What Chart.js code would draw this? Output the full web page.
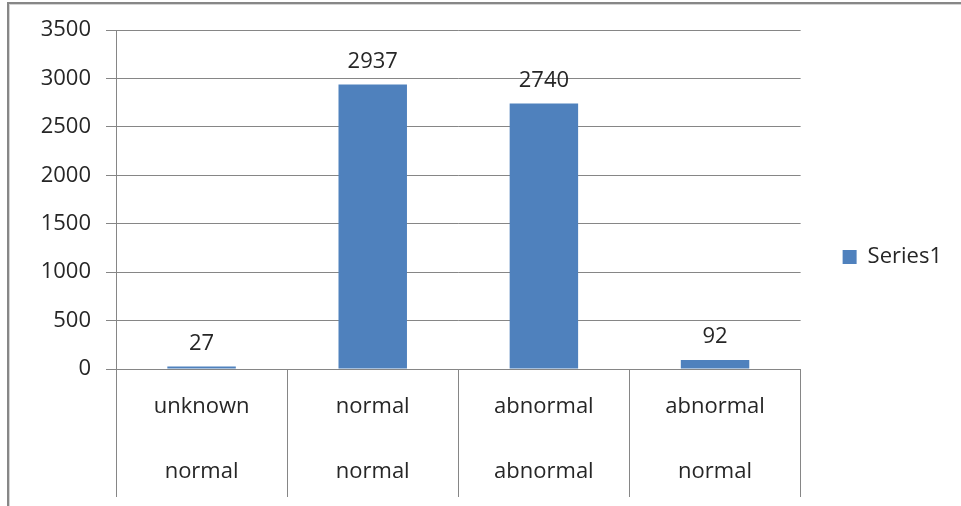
<!DOCTYPE html>
<html>
<head>
<meta charset="utf-8">
<script src="https://cdn.jsdelivr.net/npm/chart.js@4/dist/chart.umd.min.js"></script>
<style>
  html, body { margin: 0; padding: 0; background: #fff; overflow: hidden; }
  #wrap { position: relative; width: 961px; height: 506px; }
  #frame {
    position: absolute; left: 7px; top: 2px; width: 1200px; height: 800px;
    border-left: 2px solid #878787; border-top: 2px solid #878787;
    box-shadow: inset 1px 1px 0 #d4d4d4;
    pointer-events: none;
  }
  canvas { position: absolute; left: 0; top: 0; }
</style>
</head>
<body>
<div id="wrap">
  <canvas id="chart" width="961" height="506"></canvas>
  <div id="frame"></div>
</div>
<script>
// Two-level category labels (upper row, lower row)
const upperLabels = ['unknown', 'normal', 'abnormal', 'abnormal'];
const lowerLabels = ['normal', 'normal', 'abnormal', 'normal'];
const seriesName = 'Series1';
const seriesValues = [27, 2937, 2740, 92];
const yTicks = [0, 500, 1000, 1500, 2000, 2500, 3000, 3500];

const FONT = '"Open Sans", "DejaVu Sans", sans-serif';
const TEXT = '#262626';
const LINE = '#868686';

const labels = upperLabels.map((u, i) => [u, lowerLabels[i]]);

// Value labels above each bar
const valueLabels = {
  id: 'valueLabels',
  afterDatasetsDraw(chart) {
    const ctx = chart.ctx;
    const meta = chart.getDatasetMeta(0);
    ctx.save();
    ctx.font = '22px ' + FONT;
    ctx.fillStyle = TEXT;
    ctx.textAlign = 'center';
    ctx.textBaseline = 'middle';
    meta.data.forEach((bar, i) => {
      ctx.fillText(String(chart.data.datasets[0].data[i]), bar.x, bar.y - 23);
    });
    ctx.restore();
  }
};

new Chart(document.getElementById('chart'), {
  type: 'bar',
  data: {
    labels: labels,
    datasets: [{
      label: seriesName,
      data: seriesValues,
      backgroundColor: '#4F81BD',
      borderWidth: 0,
      categoryPercentage: 1,
      barPercentage: 0.4
    }]
  },
  options: {
    responsive: false,
    animation: false,
    layout: { padding: { top: 8, right: 9, bottom: 0, left: 0 } },
    plugins: {
      legend: {
        position: 'right',
        labels: {
          boxWidth: 14,
          boxHeight: 14,
          padding: 42,
          color: TEXT,
          font: { family: FONT, size: 22 }
        }
      },
      tooltip: { enabled: false }
    },
    scales: {
      x: {
        offset: true,
        grid: {
          offset: true,
          drawOnChartArea: false,
          drawTicks: true,
          tickLength: 128,
          color: LINE
        },
        border: { color: LINE },
        ticks: {
          color: TEXT,
          padding: -123,
          maxRotation: 0,
          autoSkip: false,
          font: { family: FONT, size: 22, lineHeight: '65px' }
        },
        afterFit(scale) { scale.height = 137; }
      },
      y: {
        min: 0,
        max: 3500,
        afterBuildTicks(scale) { scale.ticks = yTicks.map(v => ({ value: v })); },
        grid: { color: LINE, tickLength: 10 },
        border: { color: LINE },
        ticks: {
          color: TEXT,
          padding: 15,
          font: { family: FONT, size: 22 },
          callback: (v) => String(v)
        },
        afterFit(scale) {
          scale.width = 116;
          scale.paddingTop = 30;
        }
      }
    }
  },
  plugins: [valueLabels]
});
</script>
</body>
</html>
